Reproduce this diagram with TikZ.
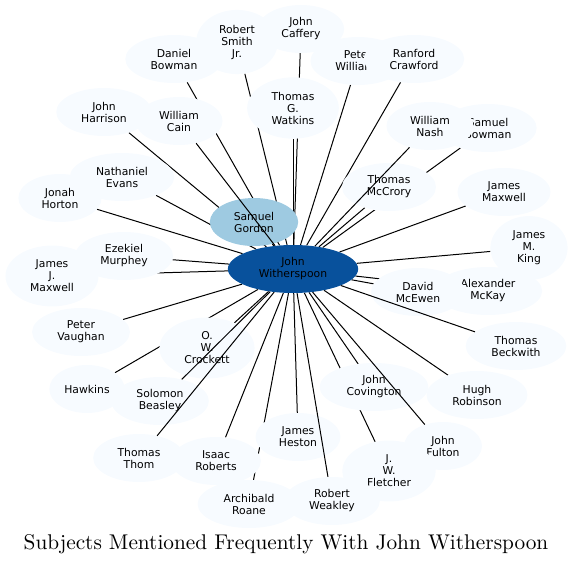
\documentclass[tikz,border=0pt]{standalone}
\usepackage{fontspec}
\usepackage{tikz}
\usetikzlibrary{shapes.geometric}
\newfontfamily\graphfont{DejaVu Sans}
\newfontfamily\titlefont{lmroman10-regular}[Extension=.otf]
\definecolor{PaleBlue}{HTML}{F7FBFF}
\definecolor{MidBlue}{HTML}{9ECAE1}
\definecolor{DeepBlue}{HTML}{08519C}
\pgfdeclarelayer{edgelayer}
\pgfsetlayers{edgelayer,main}
\tikzset{
  subjnode/.style={
    ellipse,fill=PaleBlue,draw=none,
    inner xsep=11pt,inner ysep=5.5pt,minimum height=48pt,
    font=\graphfont\fontsize{10.8}{12}\selectfont,
    align=center,text=black
  },
  gordnode/.style={subjnode,fill=MidBlue},
  hubnode/.style={subjnode,fill=DeepBlue,inner xsep=12pt},
  link/.style={draw=black,line width=1pt},
}

\begin{document}
\begin{tikzpicture}[x=1pt,y=-1pt]
  \useasboundingbox (0,0) rectangle (573,565);
  \node[subjnode] (caffery) at (301,29)  {John\\Caffery};
  \node[subjnode] (smith) at (237,42)  {Robert\\Smith\\Jr.};
  \node[subjnode] (dbowman) at (174,59)  {Daniel\\Bowman};
  \node[subjnode] (williams) at (358,61)  {Peter\\Williams};
  \node[subjnode] (crawford) at (414,59)  {Ranford\\Crawford};
  \node[subjnode] (watkins) at (293,108) {Thomas\\G.\\Watkins};
  \node[subjnode] (harrison) at (104,112) {John\\Harrison};
  \node[subjnode] (cain) at (179,121) {William\\Cain};
  \node[subjnode] (sbowman) at (488,128) {Samuel\\Bowman};
  \node[subjnode] (nash) at (430,126) {William\\Nash};
  \node[subjnode] (evans) at (122,177) {Nathaniel\\Evans};
  \node[subjnode] (horton) at (60,198)  {Jonah\\Horton};
  \node[subjnode] (mccrory) at (389,187) {Thomas\\McCrory};
  \node[subjnode] (jmaxwell) at (504,192) {James\\Maxwell};
  \node[subjnode] (king) at (529,248) {James\\M.\\King};
  \node[subjnode] (murphey) at (124,256) {Ezekiel\\Murphey};
  \node[subjnode] (jjmaxwell) at (52,276)  {James\\J.\\Maxwell};
  \node[subjnode] (mckay) at (488,291) {Alexander\\McKay};
  \node[subjnode] (mcewen) at (418,292) {David\\McEwen};
  \node[subjnode] (beckwith) at (516,346) {Thomas\\Beckwith};
  \node[subjnode] (vaughan) at (81,332)  {Peter\\Vaughan};
  \node[subjnode] (crockett) at (207,348) {O.\\W.\\Crockett};
  \node[subjnode,inner xsep=4pt] (hawkins) at (87,389) {Hawkins};
  \node[subjnode] (beasley) at (160,401) {Solomon\\Beasley};
  \node[subjnode] (covington) at (374,387) {John\\Covington};
  \node[subjnode] (robinson) at (477,395) {Hugh\\Robinson};
  \node[subjnode] (heston) at (298,437) {James\\Heston};
  \node[subjnode] (fulton) at (443,446) {John\\Fulton};
  \node[subjnode] (thom) at (139,458) {Thomas\\Thom};
  \node[subjnode] (roberts) at (216,461) {Isaac\\Roberts};
  \node[subjnode] (fletcher) at (389,471) {J.\\W.\\Fletcher};
  \node[subjnode] (roane) at (249,504) {Archibald\\Roane};
  \node[subjnode] (weakley) at (332,501) {Robert\\Weakley};
  \node[gordnode] (gordon) at (254,222) {Samuel\\Gordon};
  \node[hubnode] (hub) at (293,269) {John\\Witherspoon};
  % links hidden behind the nodes they pass
  \begin{pgfonlayer}{edgelayer}
    \draw[link] (caffery) -- (hub);
    \draw[link] (smith) -- (hub);
    \draw[link] (dbowman) -- (hub);
    \draw[link] (williams) -- (hub);
    \draw[link] (crawford) -- (hub);
    \draw[link] (watkins) -- (hub);
    \draw[link] (harrison) -- (hub);
    \draw[link] (sbowman) -- (hub);
    \draw[link] (evans) -- (hub);
    \draw[link] (horton) -- (hub);
    \draw[link] (mccrory) -- (hub);
    \draw[link] (jmaxwell) -- (hub);
    \draw[link] (king) -- (hub);
    \draw[link] (murphey) -- (hub);
    \draw[link] (jjmaxwell) -- (hub);
    \draw[link] (mckay) -- (hub);
    \draw[link] (mcewen) -- (hub);
    \draw[link] (vaughan) -- (hub);
    \draw[link] (crockett) -- (hub);
    \draw[link] (hawkins) -- (hub);
    \draw[link] (covington) -- (hub);
    \draw[link] (robinson) -- (hub);
    \draw[link] (heston) -- (hub);
    \draw[link] (roberts) -- (hub);
    \draw[link] (fletcher) -- (hub);
    \draw[link] (roane) -- (hub);
    \draw[link] (gordon) -- (hub);
  \end{pgfonlayer}
  % links drawn over other nodes
  \draw[link] (cain) -- (hub);
  \draw[link] (nash) -- (hub);
  \draw[link] (beckwith) -- (hub);
  \draw[link] (beasley) -- (hub);
  \draw[link] (thom) -- (hub);
  \draw[link] (weakley) -- (hub);
  \draw[link] (fulton) -- (hub);
  \node[font=\titlefont\fontsize{21.3}{26}\selectfont, anchor=base] (title) at (286,549) {Subjects Mentioned Frequently With John Witherspoon};
\end{tikzpicture}
\end{document}
